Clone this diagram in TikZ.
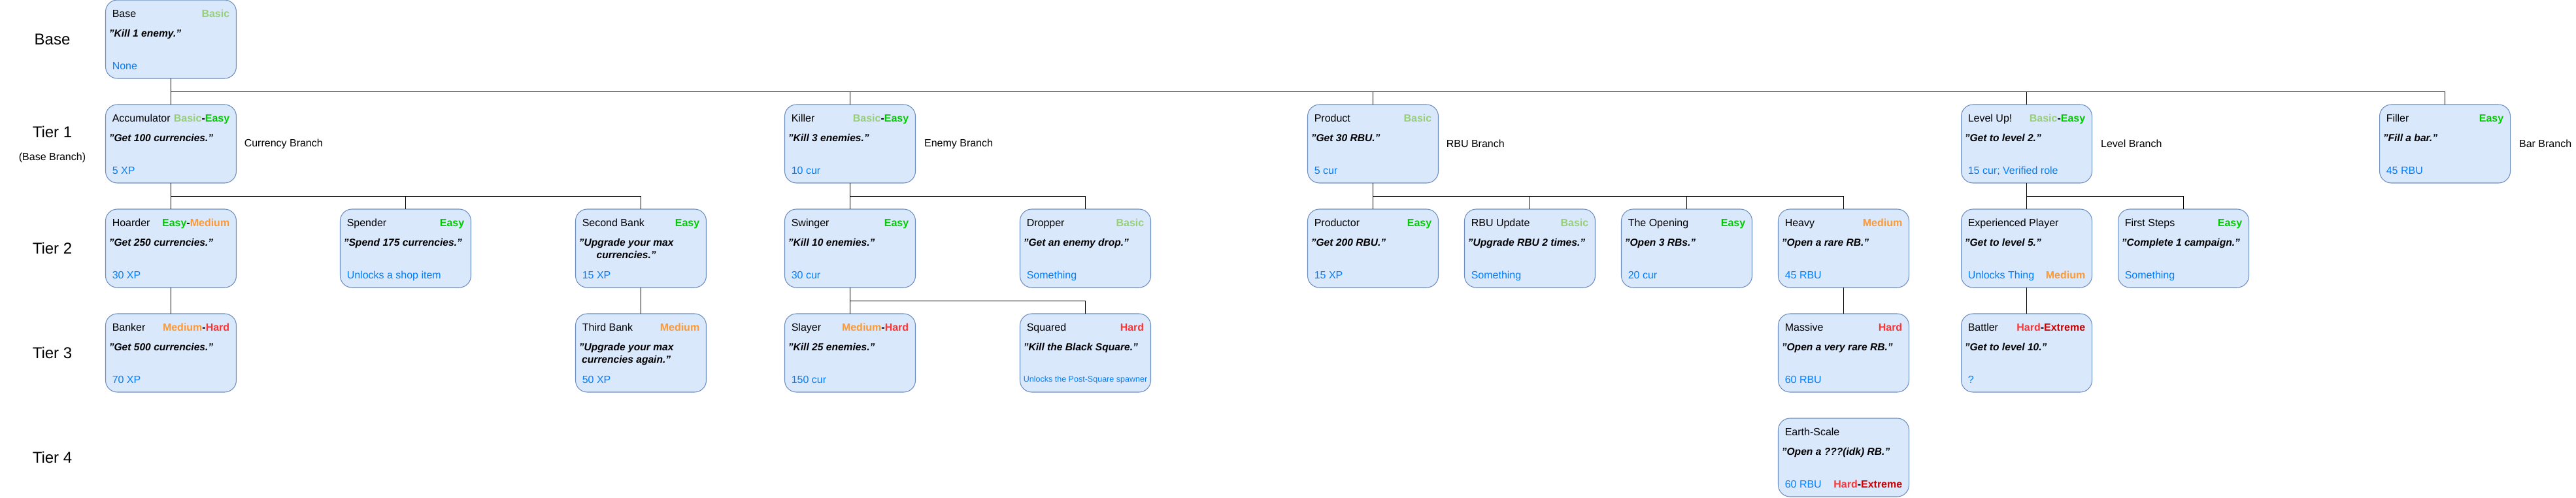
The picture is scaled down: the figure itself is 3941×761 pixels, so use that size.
\documentclass[tikz,border=0pt]{standalone}
\usepackage{fontspec}
\setmainfont{Liberation Sans}
\usetikzlibrary{positioning}
\usepackage{xcolor}
\definecolor{cardfill}{HTML}{DAE8FC}
\definecolor{cardline}{HTML}{6C8EBF}
\definecolor{rewardblue}{HTML}{007FFF}
\definecolor{basicgreen}{HTML}{97D077}
\definecolor{easygreen}{HTML}{00CC00}
\definecolor{mediumorange}{HTML}{FF9933}
\definecolor{hardred}{HTML}{FF3333}
\definecolor{extremered}{HTML}{CC0000}
\newcommand{\dBasic}{\textcolor{basicgreen}{Basic}}
\newcommand{\dEasy}{\textcolor{easygreen}{Easy}}
\newcommand{\dMedium}{\textcolor{mediumorange}{Medium}}
\newcommand{\dHard}{\textcolor{hardred}{Hard}}
\newcommand{\dExtreme}{\textcolor{extremered}{Extreme}}
\tikzset{
    card/.style={rectangle, rounded corners=13.5pt, draw=cardline, line width=0.8pt, fill=cardfill, minimum width=150pt, minimum height=90pt, inner sep=0pt, outer sep=0pt},
    cardtitle/.style={anchor=base west, inner sep=0pt, font=\fontsize{12}{14.4}\selectfont},
    carddiff/.style={anchor=base east, inner sep=0pt, font=\fontsize{12}{14.4}\selectfont\bfseries},
    cardquote/.style={anchor=north west, inner sep=0pt, align=center, font=\fontsize{11.7}{14.4}\selectfont\bfseries\itshape},
    cardreward/.style={anchor=base west, inner sep=0pt, text=rewardblue, font=\fontsize{12}{14.4}\selectfont},
    tier/.style={inner sep=0pt, font=\fontsize{18}{21.6}\selectfont},
    branch/.style={inner sep=0pt, font=\fontsize{12}{14.4}\selectfont},
    link/.style={draw=black, line width=0.8pt}
}
% name, centre, title, difficulty, quote, reward
\newcommand{\achievement}[6]{%
    \node[card] (#1) at (#2) {};
    \node[cardtitle] (#1-title) at ([shift={(10,26)}]#1.north west) {#3};
    \node[carddiff] (#1-diff) at ([shift={(-10,26)}]#1.north east) {#4};
    \node[cardquote] (#1-quote) at ([shift={(5,45)}]#1.north west) {#5};
    \node[cardreward] (#1-reward) at ([shift={(10,106)}]#1.north west) {#6};
}

\begin{document}
\begin{tikzpicture}[x=0.75pt, y=-0.75pt]
    \useasboundingbox (0,0) rectangle (3941,761);

    % tier labels
    \node[tier] (tbase) at (80,60) {Base};
    \node[tier] (tone) at (80,202) {Tier 1};
    \node[branch] (tonesub) at (80,241) {(Base Branch)};
    \node[tier] (ttwo) at (80,380) {Tier 2};
    \node[tier] (tthree) at (80,540) {Tier 3};
    \node[tier] (tfour) at (80,700) {Tier 4};

    % base and tier 1
    \achievement{base}{261.5,60}{Base}{\dBasic}{"Kill 1 enemy."}{None}
    \achievement{acc}{261.5,220}{Accumulator}{\dBasic-\dEasy}{"Get 100 currencies."}{5 XP}
    \achievement{killer}{1300.5,220}{Killer}{\dBasic-\dEasy}{"Kill 3 enemies."}{10 cur}
    \achievement{product}{2100.5,220}{Product}{\dBasic}{"Get 30 RBU."}{5 cur}
    \achievement{levelup}{3100.5,220}{Level Up!}{\dBasic-\dEasy}{"Get to level 2."}{15 cur; Verified role}
    \achievement{filler}{3740.5,220}{Filler}{\dEasy}{"Fill a bar."}{45 RBU}

    \node[branch, right=9pt of acc] (accbranch) {Currency Branch};
    \node[branch, right=10pt of killer] (killerbranch) {Enemy Branch};
    \node[branch, right=9pt of product] (productbranch) {RBU Branch};
    \node[branch, right=10pt of levelup] (levelupbranch) {Level Branch};
    \node[branch, right=10pt of filler] (fillerbranch) {Bar Branch};

    % tier 2
    \achievement{hoarder}{261.5,380}{Hoarder}{\dEasy-\dMedium}{"Get 250 currencies."}{30 XP}
    \achievement{spender}{620.5,380}{Spender}{\dEasy}{"Spend 175 currencies."}{Unlocks a shop item}
    \achievement{secondbank}{980.5,380}{Second Bank}{\dEasy}{"Upgrade your max\\currencies."}{15 XP}
    \achievement{swinger}{1300.5,380}{Swinger}{\dEasy}{"Kill 10 enemies."}{30 cur}
    \achievement{dropper}{1660.5,380}{Dropper}{\dBasic}{"Get an enemy drop."}{Something}
    \achievement{productor}{2100.5,380}{Productor}{\dEasy}{"Get 200 RBU."}{15 XP}
    \achievement{rbuupdate}{2340.5,380}{RBU Update}{\dBasic}{"Upgrade RBU 2 times."}{Something}
    \achievement{opening}{2580.5,380}{The Opening}{\dEasy}{"Open 3 RBs."}{20 cur}
    \achievement{heavy}{2820.5,380}{Heavy}{\dMedium}{"Open a rare RB."}{45 RBU}
    \achievement{expplayer}{3100.5,380}{Experienced Player}{}{"Get to level 5."}{Unlocks Thing}
    \node[carddiff] (expplayer-diff2) at ([shift={(-10,-14)}]expplayer.south east) {\dMedium};
    \achievement{firststeps}{3340.5,380}{First Steps}{\dEasy}{"Complete 1 campaign."}{Something}

    % tier 3
    \achievement{banker}{261.5,540}{Banker}{\dMedium-\dHard}{"Get 500 currencies."}{70 XP}
    \achievement{thirdbank}{980.5,540}{Third Bank}{\dMedium}{"Upgrade your max\\currencies again."}{50 XP}
    \achievement{slayer}{1300.5,540}{Slayer}{\dMedium-\dHard}{"Kill 25 enemies."}{150 cur}
    \achievement{squared}{1660.5,540}{Squared}{\dHard}{"Kill the Black Square."}{}
    \node[anchor=base, inner sep=0pt, text=rewardblue, font=\fontsize{9.4}{11}\selectfont] (squared-reward2) at ([shift={(0,-15.5)}]squared.south) {Unlocks the Post-Square spawner};
    \achievement{massive}{2820.5,540}{Massive}{\dHard}{"Open a very rare RB."}{60 RBU}
    \achievement{battler}{3100.5,540}{Battler}{\dHard-\dExtreme}{"Get to level 10."}{?}

    % tier 4
    \achievement{earth}{2820.5,700}{Earth-Scale}{}{"Open a ???(idk) RB."}{60 RBU}
    \node[carddiff] (earth-diff2) at ([shift={(-10,-14)}]earth.south east) {\dHard-\dExtreme};

    % connectors
    \foreach \p/\c in {base/acc, base/killer, base/product, base/levelup, base/filler,
        acc/hoarder, acc/spender, acc/secondbank, killer/swinger, killer/dropper,
        product/productor, product/rbuupdate, product/opening, product/heavy,
        levelup/expplayer, levelup/firststeps,
        hoarder/banker, secondbank/thirdbank, swinger/slayer, swinger/squared,
        heavy/massive, expplayer/battler}
        \draw[link] (\p.south) -- ++(0,20.5) -| (\c.north);
\end{tikzpicture}
\end{document}
